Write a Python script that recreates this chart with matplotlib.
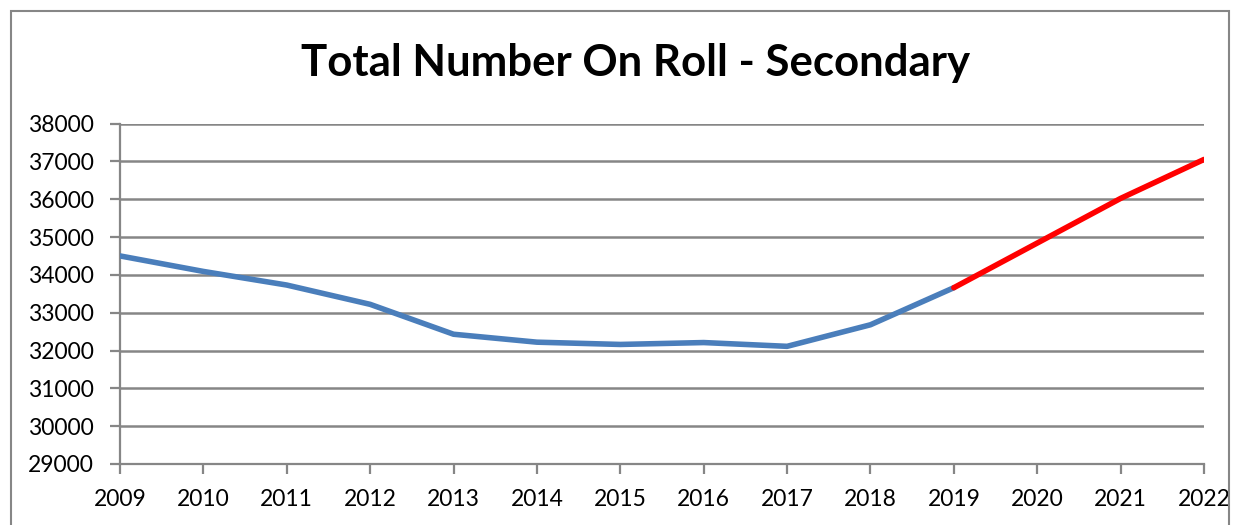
import matplotlib.pyplot as plt
from matplotlib.patches import Rectangle

# actual rolls and projection
years = [2009, 2010, 2011, 2012, 2013, 2014, 2015, 2016, 2017, 2018, 2019]
rolls = [34500, 34090, 33730, 33220, 32430, 32220, 32160, 32210, 32110, 32680, 33660]
proj_years = [2019, 2020, 2021, 2022]
proj_rolls = [33660, 34840, 36020, 37050]
yticks = [29000, 30000, 31000, 32000, 33000, 34000, 35000, 36000, 37000, 38000]
xticks = list(range(2009, 2023))

plt.rcParams['font.family'] = ['Lato', 'DejaVu Sans']
grey = '#868686'

fig = plt.figure(figsize=(12.38, 5.25), dpi=100)
ax = fig.add_axes([120/1238, 1 - 464/525, 1084/1238, 340.5/525])

# chart border
fig.patches.append(Rectangle((10.5/1238, -0.1), 1218/1238, 1.1 - 11.5/525,
                             transform=fig.transFigure, fill=False,
                             edgecolor=grey, linewidth=1.5))

ax.plot(years, rolls, color='#4A7EBB', linewidth=4, solid_capstyle='round', zorder=3)
ax.plot(proj_years, proj_rolls, color='#FF0000', linewidth=4, solid_capstyle='round', zorder=3)

ax.set_xlim(2009, 2022)
ax.set_ylim(29000, 38000)
ax.set_xticks(xticks)
ax.set_yticks(yticks)
ax.tick_params(axis='both', labelsize=16.5, color=grey, width=1.6, length=7)
ax.tick_params(axis='y', pad=12)
ax.tick_params(axis='x', pad=11)
ax.yaxis.grid(True, color=grey, linewidth=1.8)
ax.set_axisbelow(True)
for s in ['top', 'right']:
    ax.spines[s].set_visible(False)
for s in ['left', 'bottom']:
    ax.spines[s].set_color(grey)
    ax.spines[s].set_linewidth(1.6)

fig.text(636/1238, 1 - 63/525, 'Total Number On Roll - Secondary',
         ha='center', va='center', fontsize=31.5, fontweight='bold')

fig.savefig('out.png', dpi=100)
